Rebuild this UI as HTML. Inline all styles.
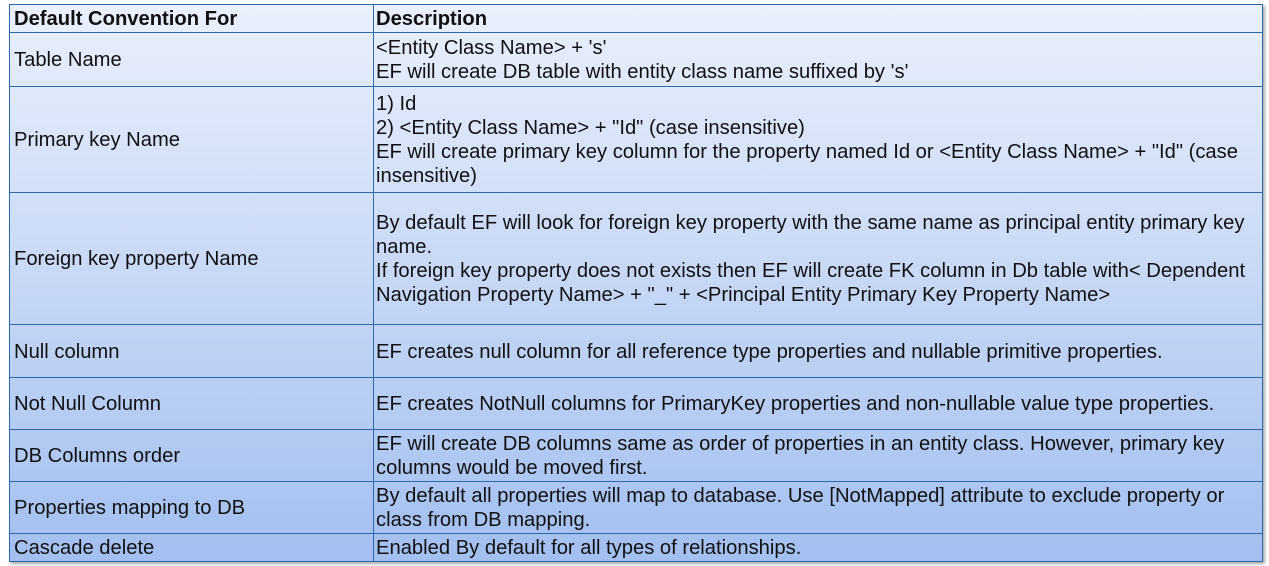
<!DOCTYPE html>
<html><head><style>
body{margin:0;width:1269px;height:566px;background:#fff;font-family:"Liberation Sans",sans-serif;color:#111;overflow:hidden}
#t{position:absolute;left:9px;top:4px;width:1252px;height:556px;border:1.5px solid #2a6aa8;background:linear-gradient(#eaf0fc,#a3bff0);box-shadow:2px 2px 3px rgba(0,0,0,.35)}
.h{position:absolute;left:0;width:1252px;border-top:1.5px solid #2a6aa8}
.v{position:absolute;left:363px;top:0;height:556px;border-left:1.5px solid #2a6aa8}
.c{position:absolute;font-size:20.2px;line-height:24px;display:flex;align-items:center}
.l{left:4px;width:355px}
.r{left:366px;width:880px}
b{font-weight:bold}
</style></head><body>
<div id="t">
<div class="v"></div>
<div class="h" style="top:27px"></div>
<div class="h" style="top:81px"></div>
<div class="h" style="top:187px"></div>
<div class="h" style="top:319px"></div>
<div class="h" style="top:372px"></div>
<div class="h" style="top:424px"></div>
<div class="h" style="top:476px"></div>
<div class="h" style="top:528px"></div>

<div class="c l" style="top:0;height:28px"><b>Default Convention For</b></div>
<div class="c r" style="top:0;height:28px"><b>Description</b></div>

<div class="c l" style="top:28px;height:54px">Table Name</div>
<div class="c r" style="top:28px;height:54px"><div>&lt;Entity Class Name&gt; + 's'<br>EF will create DB table with entity class name suffixed by 's'</div></div>

<div class="c l" style="top:82px;height:106px">Primary key Name</div>
<div class="c r" style="top:82px;height:106px"><div>1) Id<br>2) &lt;Entity Class Name&gt; + "Id" (case insensitive)<br>EF will create primary key column for the property named Id or &lt;Entity Class Name&gt; + "Id" (case insensitive)</div></div>

<div class="c l" style="top:188px;height:132px">Foreign key property Name</div>
<div class="c r" style="top:188px;height:132px"><div>By default EF will look for foreign key property with the same name as principal entity primary key name.<br>If foreign key property does not exists then EF will create FK column in Db table with&lt; Dependent Navigation Property Name&gt; + "_" + &lt;Principal Entity Primary Key Property Name&gt;</div></div>

<div class="c l" style="top:320px;height:53px">Null column</div>
<div class="c r" style="top:320px;height:53px">EF creates null column for all reference type properties and nullable primitive properties.</div>

<div class="c l" style="top:373px;height:52px">Not Null Column</div>
<div class="c r" style="top:373px;height:52px">EF creates NotNull columns for PrimaryKey properties and non-nullable value type properties.</div>

<div class="c l" style="top:425px;height:52px">DB Columns order</div>
<div class="c r" style="top:425px;height:52px"><div>EF will create DB columns same as order of properties in an entity class. However, primary key columns would be moved first.</div></div>

<div class="c l" style="top:477px;height:52px">Properties mapping to DB</div>
<div class="c r" style="top:477px;height:52px"><div>By default all properties will map to database. Use [NotMapped] attribute to exclude property or class from DB mapping.</div></div>

<div class="c l" style="top:529px;height:28px">Cascade delete</div>
<div class="c r" style="top:529px;height:28px">Enabled By default for all types of relationships.</div>
</div>
</body></html>
